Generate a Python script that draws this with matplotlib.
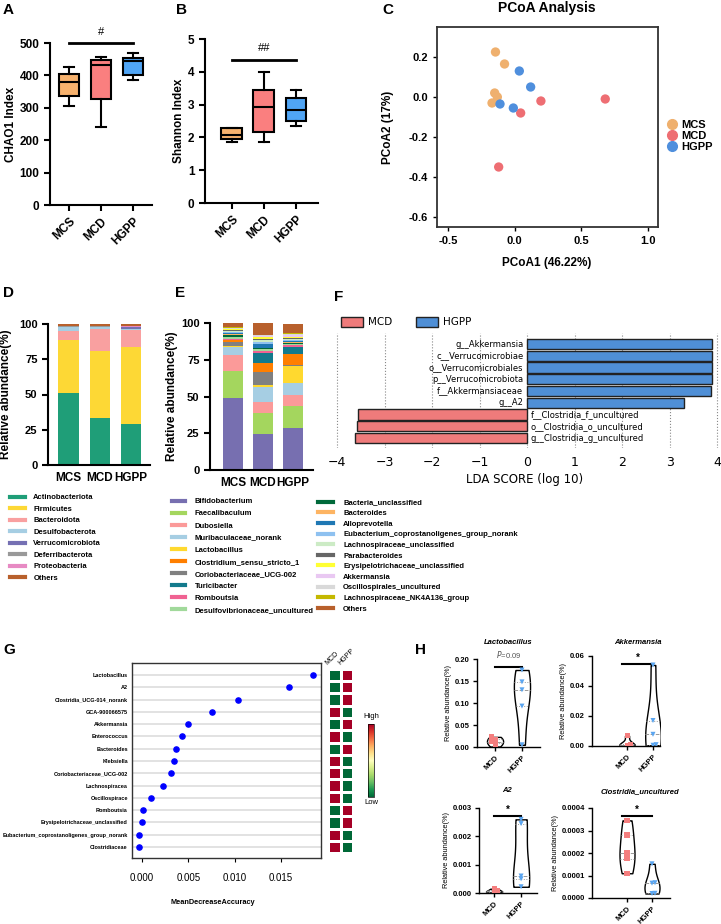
import matplotlib
matplotlib.use("Agg")
import matplotlib.pyplot as plt
import numpy as np
from matplotlib.lines import Line2D
from matplotlib.patches import Patch
from matplotlib.ticker import FormatStrFormatter
from matplotlib.cm import ScalarMappable
from matplotlib.colors import Normalize

plt.rcParams['font.family'] = ['Liberation Sans', 'DejaVu Sans']

# ---------------- data ----------------
groups = ['MCS', 'MCD', 'HGPP']
group_colors = ['#F7B26E', '#FA7F7F', '#50A5F5']

# A: CHAO1 box stats
chao1_whislo = [307, 240, 387]
chao1_q1 = [335, 327, 400]
chao1_med = [380, 431, 443]
chao1_q3 = [405, 448, 454]
chao1_whishi = [425, 457, 469]

# B: Shannon box stats
shannon_whislo = [1.85, 1.86, 2.36]
shannon_q1 = [1.95, 2.17, 2.51]
shannon_med = [2.06, 2.92, 2.84]
shannon_q3 = [2.28, 3.45, 3.20]
shannon_whishi = [2.30, 4.00, 3.45]

# C: PCoA
pcoa_mcs_x = [-0.144, -0.076, -0.15, -0.13, -0.17]
pcoa_mcs_y = [0.225, 0.165, 0.02, 0.0, -0.03]
pcoa_mcd_x = [0.197, 0.68, 0.045, -0.12]
pcoa_mcd_y = [-0.02, -0.01, -0.08, -0.35]
pcoa_hgpp_x = [0.035, 0.12, -0.11, -0.01]
pcoa_hgpp_y = [0.13, 0.05, -0.035, -0.055]
pcoa_colors = ['#EFB06E', '#EE6E73', '#4F8FDD']

# D: phylum composition (%), per group MCS, MCD, HGPP
phyla = ['Actinobacteriota', 'Firmicutes', 'Bacteroidota', 'Desulfobacterota',
         'Verrucomicrobiota', 'Deferribacterota', 'Proteobacteria', 'Others']
phylum_values = [
    [51.0, 33.0, 29.0],
    [38.0, 48.0, 54.5],
    [6.0, 15.5, 12.0],
    [3.0, 1.3, 0.8],
    [0.1, 0.3, 1.5],
    [0.3, 0.3, 0.3],
    [0.3, 0.5, 0.4],
    [1.3, 1.1, 1.5],
]
phylum_colors = ['#1F9E78', '#FDD835', '#F9A0A0', '#A6CEE3', '#7570B3',
                 '#999999', '#E78AC3', '#B8602C']

# E: genus composition (%)
genera = ['Bifidobacterium', 'Faecalibaculum', 'Dubosiella', 'Muribaculaceae_norank',
          'Lactobacillus', 'Clostridium_sensu_stricto_1', 'Coriobacteriaceae_UCG-002',
          'Turicibacter', 'Romboutsia', 'Desulfovibrionaceae_uncultured',
          'Bacteria_unclassified', 'Bacteroides', 'Alloprevotella',
          'Eubacterium_coprostanoligenes_group_norank', 'Lachnospiraceae_unclassified',
          'Parabacteroides', 'Erysipelotrichaceae_unclassified', 'Akkermansia',
          'Oscillospirales_uncultured', 'Lachnospiraceae_NK4A136_group', 'Others']
genus_values = [
    [48.8, 24.5, 28.8],
    [18.5, 14.0, 14.7],
    [10.9, 7.5, 7.5],
    [5.3, 10.7, 8.4],
    [1.0, 1.0, 11.6],
    [1.2, 5.7, 7.4],
    [2.5, 9.2, 0.5],
    [0.4, 6.8, 4.6],
    [0.5, 1.8, 1.5],
    [1.2, 1.0, 0.8],
    [1.5, 0.6, 0.8],
    [0.6, 0.5, 0.8],
    [0.5, 2.5, 0.6],
    [0.9, 1.5, 0.7],
    [0.8, 1.0, 0.6],
    [0.4, 0.5, 0.6],
    [0.8, 1.8, 0.8],
    [0.1, 0.3, 1.2],
    [0.5, 0.6, 0.9],
    [0.6, 0.6, 0.4],
    [3.0, 7.9, 6.3],
]
genus_colors = ['#776FB0', '#A4D65E', '#FB9A99', '#A6CEE3', '#FFD92F', '#FF7F00',
                '#808080', '#137A8C', '#F06292', '#A1D99B', '#00693A', '#FDB462',
                '#1F78B4', '#8EC1F0', '#CCEBC5', '#666666', '#FFFF33', '#E9C8F2',
                '#D9D9D9', '#C4B800', '#B8602C']
# stacking order in the bars (Coriobacteriaceae sits below Clostridium)
genus_stack_order = [0, 1, 2, 3, 4, 6, 5] + list(range(7, 21))

# F: LEfSe
lda_features = ['g__Akkermansia', 'c__Verrucomicrobiae', 'o__Verrucomicrobiales',
                'p__Verrucomicrobiota', 'f__Akkermansiaceae', 'g__A2',
                'f__Clostridia_f_uncultured', 'o__Clostridia_o_uncultured',
                'g__Clostridia_g_uncultured']
lda_scores = [3.90, 3.89, 3.89, 3.89, 3.88, 3.31, -3.56, -3.58, -3.62]
lda_colors = {'MCD': '#EF7B7B', 'HGPP': '#4F8FD6'}

# G: random forest importance
rf_features = ['Lactobacillus', 'A2', 'Clostridia_UCG-014_norank', 'GCA-900066575',
               'Akkermansia', 'Enterococcus', 'Bacteroides', 'Klebsiella',
               'Coriobacteriaceae_UCG-002', 'Lachnospiracea', 'Oscillospirace',
               'Romboutsia', 'Erysipelotrichaceae_unclassified',
               'Eubacterium_coprostanoligenes_group_norank', 'Clostridiaceae']
rf_mda = [0.01849, 0.01584, 0.01036, 0.0076, 0.00491, 0.00427, 0.00362, 0.00341,
          0.00312, 0.00229, 0.00097, 0.00014, -0.00004, -0.00036, -0.00036]
# 1 = high, 0 = low; columns MCD, HGPP
rf_heat_mcd = [0, 0, 0, 1, 0, 1, 0, 1, 1, 1, 1, 0, 0, 1, 1]
rf_heat_hgpp = [1, 1, 1, 0, 1, 0, 1, 0, 0, 0, 0, 1, 1, 0, 0]

# H: violin data
violin_titles = ['Lactobacillus', 'Akkermansia', 'A2', 'Clostridia_uncultured']
lacto_mcd = [0.023, 0.018, 0.012, 0.008, 0.001]
lacto_hgpp = [0.175, 0.148, 0.130, 0.093, 0.005]
akk_mcd = [0.0068, 0.0012, 0.0006, 0.0003, 0.0001]
akk_hgpp = [0.054, 0.017, 0.0078, 0.0009, 0.0005]
a2_mcd = [0.00015, 0.0001, 0.00006, 0.00004, 0.00002]
a2_hgpp = [0.0026, 0.00245, 0.0006, 0.0005, 0.00022]
clos_mcd = [0.000345, 0.00028, 0.0002, 0.000175, 0.00011]
clos_hgpp = [0.000152, 0.000068, 0.000066, 0.000021, 0.00002]
violin_sig = ['P=0.09', '*', '*', '*']

# ---------------- helpers ----------------
W, H = 721, 924
fig = plt.figure(figsize=(W / 100, H / 100), dpi=100)


def px_axes(l, t, r, b):
    return fig.add_axes([l / W, 1 - b / H, (r - l) / W, (b - t) / H])


def px_text(x, y, s, **kw):
    kw.setdefault('ha', 'center')
    kw.setdefault('va', 'center')
    fig.text(x / W, 1 - y / H, s, **kw)


def bold_ticks(ax):
    for lbl in ax.get_xticklabels() + ax.get_yticklabels():
        lbl.set_fontweight('bold')


def prism_axes(ax, lw=1.5):
    ax.spines['top'].set_visible(False)
    ax.spines['right'].set_visible(False)
    ax.spines['left'].set_linewidth(lw)
    ax.spines['bottom'].set_linewidth(lw)


for letter, x, y in [('A', 3, 10), ('B', 176, 10), ('C', 382, 10), ('D', 3, 293),
                     ('E', 175, 293), ('F', 334, 297), ('G', 3, 650), ('H', 415, 650)]:
    px_text(x, y, letter, fontsize=11, fontweight='bold', ha='left')


def box_panel(ax, lo, q1, med, q3, hi, ylim, yticks, ylabel, sig, sig_y, sig_text_y):
    stats = [dict(whislo=lo[i], q1=q1[i], med=med[i], q3=q3[i], whishi=hi[i], fliers=[])
             for i in range(3)]
    bp = ax.bxp(stats, positions=[0, 1, 2], widths=0.65, patch_artist=True,
                showfliers=False, capwidths=0.3,
                boxprops=dict(linewidth=1.5, edgecolor='black'),
                medianprops=dict(color='black', linewidth=1.5),
                whiskerprops=dict(linewidth=1.5), capprops=dict(linewidth=1.5))
    for patch, c in zip(bp['boxes'], group_colors):
        patch.set_facecolor(c)
    prism_axes(ax)
    ax.set_ylim(*ylim)
    ax.set_yticks(yticks)
    ax.set_xticks([0, 1, 2])
    ax.set_xticklabels(groups, rotation=45, ha='right', rotation_mode='anchor')
    ax.tick_params(length=4, width=1.5, labelsize=8.5)
    bold_ticks(ax)
    ax.set_ylabel(ylabel, fontsize=8.5, fontweight='bold', labelpad=2)
    ax.plot([0, 2], [sig_y, sig_y], color='black', lw=2, clip_on=False)
    ax.text(1, sig_text_y, sig, ha='center', va='center', fontsize=8)


# ---------------- A ----------------
axA = px_axes(50, 43, 152, 205)
axA.set_xlim(-0.6, 2.6)
box_panel(axA, chao1_whislo, chao1_q1, chao1_med, chao1_q3, chao1_whishi,
          (0, 500), range(0, 501, 100), 'CHAO1 Index', '#', 500, 535)

# ---------------- B ----------------
axB = px_axes(205, 39, 318, 203)
axB.set_xlim(-0.84, 2.69)
box_panel(axB, shannon_whislo, shannon_q1, shannon_med, shannon_q3, shannon_whishi,
          (0, 5), range(0, 6), 'Shannon Index', '##', 4.35, 4.72)

# ---------------- C ----------------
axC = px_axes(437, 27, 658, 227)
for xs, ys, c, g in zip([pcoa_mcs_x, pcoa_mcd_x, pcoa_hgpp_x],
                        [pcoa_mcs_y, pcoa_mcd_y, pcoa_hgpp_y], pcoa_colors, groups):
    axC.scatter(xs, ys, s=45, color=c, edgecolors='none', label=g)
axC.set_xlim(-0.583, 1.076)
axC.set_ylim(-0.65, 0.35)
axC.set_xticks([-0.5, 0, 0.5, 1.0])
axC.set_yticks([-0.6, -0.4, -0.2, 0, 0.2])
axC.xaxis.set_major_formatter(FormatStrFormatter('%.1f'))
axC.yaxis.set_major_formatter(FormatStrFormatter('%.1f'))
for sp in axC.spines.values():
    sp.set_linewidth(1.3)
    sp.set_color('#333333')
axC.tick_params(length=3, width=1, labelsize=8)
bold_ticks(axC)
px_text(547, 8, 'PCoA Analysis', fontsize=10, fontweight='bold')
px_text(547, 263, 'PCoA1 (46.22%)', fontsize=8.5, fontweight='bold')
px_text(388, 127, 'PCoA2 (17%)', fontsize=8.5, fontweight='bold', rotation=90)
fig.legend(handles=[Line2D([], [], marker='o', ls='', color=c, markersize=7, label=g)
                    for c, g in zip(pcoa_colors, groups)],
           loc='upper left', bbox_to_anchor=(668 / W, 1 - 120 / H), frameon=False,
           prop=dict(weight='bold', size=8), handlelength=0.8, handletextpad=0.4,
           labelspacing=0.1, borderpad=0, borderaxespad=0)

# ---------------- D ----------------
axD = px_axes(48, 324, 150, 465)
bottom = np.zeros(3)
for vals, c in zip(phylum_values, phylum_colors):
    axD.bar(range(3), vals, bottom=bottom, width=0.65, color=c)
    bottom += np.array(vals)
axD.set_xlim(-0.65, 2.6)
axD.set_ylim(0, 100)
axD.set_yticks([0, 25, 50, 75, 100])
axD.set_xticks(range(3))
axD.set_xticklabels(groups)
prism_axes(axD)
axD.tick_params(axis='y', length=4, width=1.5, labelsize=8)
axD.tick_params(axis='x', length=0, labelsize=8.5, pad=5)
bold_ticks(axD)
axD.set_ylabel('Relative abundance(%)', fontsize=8.5, fontweight='bold')
axD.yaxis.set_label_coords(-0.35, 0.5)
fig.legend(handles=[Line2D([], [], color=c, lw=3, label=p) for p, c in zip(phyla, phylum_colors)],
           loc='upper left', bbox_to_anchor=(10 / W, 1 - 494 / H), frameon=False,
           prop=dict(weight='bold', size=5.5), handlelength=2.0, handletextpad=1.05,
           labelspacing=0.54, borderpad=0, borderaxespad=0)

# ---------------- E ----------------
axE = px_axes(210, 323, 313, 470)
bottom = np.zeros(3)
for i in genus_stack_order:
    axE.bar(range(3), genus_values[i], bottom=bottom, width=0.67, color=genus_colors[i])
    bottom += np.array(genus_values[i])
axE.set_xlim(-0.77, 2.67)
axE.set_ylim(0, 100)
axE.set_yticks([0, 25, 50, 75, 100])
axE.set_xticks(range(3))
axE.set_xticklabels(groups)
prism_axes(axE)
axE.tick_params(axis='y', length=4, width=1.5, labelsize=8)
axE.tick_params(axis='x', length=0, labelsize=8.5, pad=5)
bold_ticks(axE)
axE.set_ylabel('Relative abundance(%)', fontsize=8.5, fontweight='bold')
axE.yaxis.set_label_coords(-0.31, 0.5)
genus_handles = [Line2D([], [], color=c, lw=3, label=g) for g, c in zip(genera, genus_colors)]
fig.legend(handles=genus_handles[:10], loc='upper left',
           bbox_to_anchor=(172 / W, 1 - 498 / H), frameon=False,
           prop=dict(weight='bold', size=5.5), handlelength=1.75, handletextpad=1.2,
           labelspacing=0.62, borderpad=0, borderaxespad=0)
fig.legend(handles=genus_handles[10:], loc='upper left',
           bbox_to_anchor=(318 / W, 1 - 499 / H), frameon=False,
           prop=dict(weight='bold', size=5.5), handlelength=2.0, handletextpad=1.3,
           labelspacing=0.43, borderpad=0, borderaxespad=0)

# ---------------- F ----------------
axF = px_axes(330, 333, 720, 448)
ypos = np.arange(len(lda_features))[::-1]
bar_cols = [lda_colors['HGPP'] if s > 0 else lda_colors['MCD'] for s in lda_scores]
axF.barh(ypos, lda_scores, height=0.88, color=bar_cols, edgecolor='#222222', lw=1, zorder=2)
for y, s, name in zip(ypos, lda_scores, lda_features):
    if s > 0:
        axF.text(-0.08, y, name, ha='right', va='center', fontsize=6,
                 family='DejaVu Sans', zorder=3)
    else:
        axF.text(0.08, y, name, ha='left', va='center', fontsize=6,
                 family='DejaVu Sans', zorder=3)
axF.set_xlim(-4.15, 4.06)
axF.set_ylim(-0.85, 8.94)
axF.set_xticks(range(-4, 5))
axF.set_yticks([])
for sp in axF.spines.values():
    sp.set_visible(False)
axF.xaxis.grid(True, linestyle=':', color='#888888', lw=0.8)
axF.set_axisbelow(True)
axF.tick_params(axis='x', length=0, labelsize=9, pad=6)
for lbl in axF.get_xticklabels():
    lbl.set_family('DejaVu Sans')
axF.set_xlabel('LDA SCORE (log 10)', fontsize=8.5, family='DejaVu Sans', labelpad=3)
fig.legend(handles=[Patch(facecolor=lda_colors[k], edgecolor='#222222', label=k)
                    for k in ['MCD', 'HGPP']],
           loc='center left', bbox_to_anchor=(341 / W, 1 - 322 / H), ncol=2,
           frameon=False, prop=dict(family='DejaVu Sans', size=7.5),
           handlelength=2.1, handleheight=1.1, handletextpad=0.5, columnspacing=2.3,
           borderpad=0, borderaxespad=0)

# ---------------- G ----------------
axG = px_axes(132, 663, 321, 858)
rows = np.arange(len(rf_features))[::-1]
axG.scatter(rf_mda, rows, s=14, color='#0000FF', zorder=3)
axG.set_xlim(-0.00108, 0.0193)
axG.set_ylim(-0.9, 14.98)
axG.set_yticks(rows)
axG.set_yticklabels(rf_features)
axG.set_xticks([0, 0.005, 0.010, 0.015])
axG.xaxis.set_major_formatter(FormatStrFormatter('%.3f'))
axG.yaxis.grid(True, color='#DDDDDD', lw=1.2)
axG.set_axisbelow(True)
axG.tick_params(axis='y', length=0, labelsize=4, pad=3)
axG.tick_params(axis='x', length=3, width=0.8, labelsize=7, pad=8)
for lbl in axG.get_yticklabels():
    lbl.set_fontweight('bold')
for sp in axG.spines.values():
    sp.set_linewidth(1)
    sp.set_color('#333333')
px_text(213, 903, 'MeanDecreaseAccuracy', fontsize=5.3, fontweight='bold')

axHm = px_axes(328, 663, 353, 858)
heat = np.column_stack([rf_heat_mcd, rf_heat_hgpp])
axHm.pcolormesh(np.arange(3), np.arange(len(rf_features) + 1)[::-1] - 0.5,
                heat, cmap='RdYlGn_r', vmin=0, vmax=1, edgecolors='white', linewidth=1.0)
axHm.set_ylim(-0.9, 14.98)
axHm.set_xlim(0, 2)
axHm.axis('off')
for i, lab in enumerate(['MCD', 'HGPP']):
    axHm.text(i + 0.1, 14.7, lab, rotation=45, ha='left', va='bottom', fontsize=5,
              rotation_mode='anchor')
cax = px_axes(368, 724, 374, 797)
cb = fig.colorbar(ScalarMappable(norm=Normalize(0, 1), cmap='RdYlGn_r'), cax=cax)
cb.set_ticks([])
cb.outline.set_linewidth(0.5)
px_text(371, 717, 'High', fontsize=5.5)
px_text(371, 803, 'Low', fontsize=5.5)

# ---------------- H ----------------


def violin_panel(box, mcd, hgpp, xlim, ylim, yticks, fmt, title, title_xy, sig, sig_x):
    ax = px_axes(*box)
    parts = ax.violinplot([mcd, hgpp], positions=[0, 1], widths=0.6, showextrema=False)
    for pos, body, d in zip([0, 1], parts['bodies'], [mcd, hgpp]):
        body.set_facecolor('white')
        body.set_edgecolor('black')
        body.set_linewidth(1)
        body.set_alpha(1)
        verts = body.get_paths()[0].vertices
        right = verts[verts[:, 0] >= pos]
        order = np.argsort(right[:, 1])
        ys, xs = right[order, 1], right[order, 0]
        for q, ls in zip(np.percentile(d, [25, 50, 75]), [':', '--', ':']):
            half = np.interp(q, ys, xs) - pos
            ax.plot([pos - half, pos + half], [q, q], color='#999999', lw=0.7, ls=ls)
    for pos, d, c, m in zip([0, 1], [mcd, hgpp], ['#F47E7E', '#5AA5F0'], ['s', 'v']):
        d = np.sort(np.asarray(d))
        span = ylim[1] - ylim[0]
        offs = np.zeros(len(d))
        for k in range(1, len(d)):
            if d[k] - d[k - 1] < 0.03 * span and offs[k - 1] == 0:
                offs[k] = 0.12 if k % 2 else -0.12
        ax.scatter(pos + offs, d, marker=m, s=13, color=c, zorder=3, edgecolors='none')
    ax.set_xlim(*xlim)
    ax.set_ylim(*ylim)
    ax.set_yticks(yticks)
    ax.yaxis.set_major_formatter(FormatStrFormatter(fmt))
    ax.set_xticks([0, 1])
    ax.set_xticklabels(['MCD', 'HGPP'], rotation=45, ha='right', rotation_mode='anchor')
    prism_axes(ax, lw=1)
    ax.tick_params(length=3, width=1, labelsize=5.5, pad=2)
    bold_ticks(ax)
    ax.set_ylabel('Relative abundance(%)', fontsize=5.3, labelpad=2)
    px_text(*title_xy, title, fontsize=5.5, fontweight='bold', style='italic')
    sy = ylim[1] * 0.91
    ax.plot(sig_x, [sy, sy], color='black', lw=1.5, clip_on=False)
    if sig.startswith('P'):
        ax.text(np.mean(sig_x), ylim[1] * 0.99, r'$\it{P}$' + sig[1:], ha='center',
                va='bottom', fontsize=5.5, color='#555555')
    else:
        ax.text(np.mean(sig_x), sy * 1.01, sig, ha='center', va='bottom', fontsize=7,
                fontweight='bold')
    return ax


violin_panel((477, 659, 540, 747), lacto_mcd, lacto_hgpp, (-0.67, 1.67), (0, 0.2),
             [0, 0.05, 0.10, 0.15, 0.20], '%.2f', violin_titles[0], (508, 642),
             violin_sig[0], [0, 1])
violin_panel((592, 656, 660, 746), akk_mcd, akk_hgpp, (-1.35, 1.27), (0, 0.06),
             [0, 0.02, 0.04, 0.06], '%.2f', violin_titles[1], (638, 642),
             violin_sig[1], [-0.2, 1])
violin_panel((479, 808, 537, 893), a2_mcd, a2_hgpp, (-0.56, 1.59), (0, 0.003),
             [0, 0.001, 0.002, 0.003], '%.3f', violin_titles[2], (507, 790),
             violin_sig[2], [0, 1])
violin_panel((592, 808, 670, 898), clos_mcd, clos_hgpp, (-1.4, 1.72), (0, 0.0004),
             [0, 0.0001, 0.0002, 0.0003, 0.0004], '%.4f', violin_titles[3], (640, 792),
             violin_sig[3], [-0.2, 1])

fig.savefig('out.png', dpi=100)
